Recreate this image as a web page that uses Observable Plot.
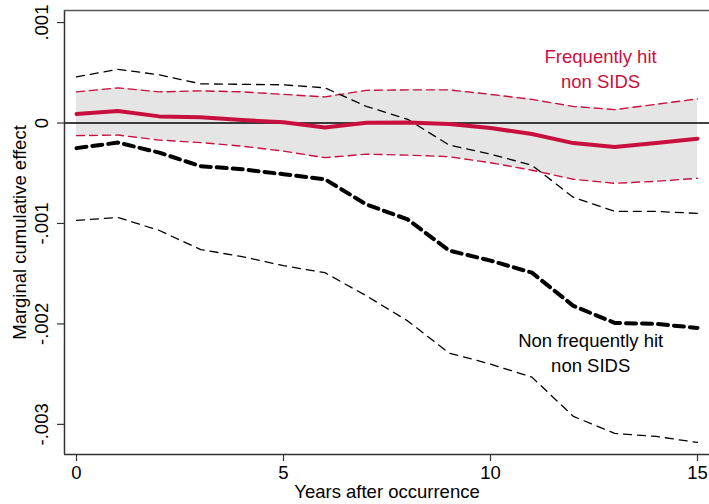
<!DOCTYPE html>
<html>
<head>
<meta charset="utf-8">
<script src="https://cdn.jsdelivr.net/npm/d3@7"></script>
<script src="https://cdn.jsdelivr.net/npm/@observablehq/plot@0.6"></script>
<style>
  html, body { margin: 0; padding: 0; background: #fff; }
  #chart svg { display: block; }
</style>
</head>
<body>
<div id="chart"></div>
<script>
const years = [0, 1, 2, 3, 4, 5, 6, 7, 8, 9, 10, 11, 12, 13, 14, 15];

// Frequently hit non SIDS
const freqMid = [0.00009, 0.00012, 0.000066, 0.000057, 0.00003, 0.000007, -0.000045, 0.000003, 0.000005, -0.00001, -0.00005, -0.00011, -0.0002, -0.00024, -0.0002, -0.000156];
const freqHi  = [0.00031, 0.00035, 0.00031, 0.00032, 0.00031, 0.000285, 0.00026, 0.000325, 0.00033, 0.00033, 0.000285, 0.000235, 0.000165, 0.000133, 0.000186, 0.00024];
const freqLo  = [-0.000126, -0.00012, -0.00017, -0.000195, -0.00023, -0.00028, -0.000345, -0.00031, -0.00032, -0.000335, -0.000395, -0.00047, -0.00056, -0.0006, -0.00058, -0.00055];

// Non frequently hit non SIDS
const nonMid = [-0.00025, -0.000195, -0.000295, -0.00043, -0.00046, -0.00051, -0.00056, -0.00081, -0.00096, -0.00127, -0.00137, -0.00149, -0.00182, -0.00199, -0.002, -0.00204];
const nonHi  = [0.00046, 0.000534, 0.00048, 0.00039, 0.000385, 0.00038, 0.00035, 0.000166, 0.000037, -0.00022, -0.00031, -0.00042, -0.00074, -0.00088, -0.00088, -0.0009];
const nonLo  = [-0.00097, -0.00094, -0.00107, -0.00126, -0.00133, -0.00142, -0.00149, -0.00172, -0.00197, -0.00229, -0.0024, -0.00253, -0.00292, -0.00309, -0.00312, -0.00318];

const xTicks = [0, 5, 10, 15];
const yTicks = [0.001, 0, -0.001, -0.002, -0.003];
const yTickLabels = [".001", "0", "-.001", "-.002", "-.003"];
const xDomain = [-0.29, 15.29];
const yDomain = [-0.0033, 0.00112];

const seriesLabels = ["Frequently hit\nnon SIDS", "Non frequently hit\nnon SIDS"];

const rows = years.map((yr, i) => ({
  yr, freqMid: freqMid[i], freqHi: freqHi[i], freqLo: freqLo[i],
  nonMid: nonMid[i], nonHi: nonHi[i], nonLo: nonLo[i]
}));

const RED = "#c8103e";
const FONT = "Liberation Sans, Arial, Helvetica, sans-serif";
const FS = 18.5;

const chart = Plot.plot({
  width: 709,
  height: 504,
  marginLeft: 64,
  marginRight: 0,
  marginTop: 10,
  marginBottom: 50,
  style: { fontFamily: FONT, fontSize: FS + "px", background: "#fff", color: "#000" },
  x: { domain: xDomain, axis: null },
  y: { domain: yDomain, axis: null },
  marks: [
    Plot.areaY(rows, { x: "yr", y1: "freqLo", y2: "freqHi", fill: "#e5e5e5" }),
    Plot.ruleY([0], { stroke: "#000", strokeWidth: 1.3 }),
    Plot.lineY(rows, { x: "yr", y: "freqHi", stroke: RED, strokeWidth: 1.4, strokeDasharray: "8,5" }),
    Plot.lineY(rows, { x: "yr", y: "freqLo", stroke: RED, strokeWidth: 1.4, strokeDasharray: "8,5" }),
    Plot.lineY(rows, { x: "yr", y: "nonHi", stroke: "#000", strokeWidth: 1.3, strokeDasharray: "8,6" }),
    Plot.lineY(rows, { x: "yr", y: "nonLo", stroke: "#000", strokeWidth: 1.3, strokeDasharray: "8,6" }),
    Plot.lineY(rows, { x: "yr", y: "nonMid", stroke: "#000", strokeWidth: 4, strokeDasharray: "10,6" }),
    Plot.lineY(rows, { x: "yr", y: "freqMid", stroke: RED, strokeWidth: 4 }),
    // frame lines
    Plot.ruleX([xDomain[0]], { stroke: "#333", strokeWidth: 1.5 }),
    Plot.ruleY([yDomain[0]], { stroke: "#333", strokeWidth: 1.5 }),
    Plot.ruleY([yDomain[1]], { stroke: "#555", strokeWidth: 1.5 }),
    // axes
    Plot.axisY(yTicks, { label: null, tickSize: 7, tickPadding: 10, tickFormat: (d) => yTickLabels[yTicks.indexOf(d)], tickRotate: -90, fontSize: FS, stroke: "#333", strokeWidth: 1.2 }),
    Plot.axisX(xTicks, { label: null, tickSize: 7, tickPadding: 4, tickFormat: d => String(d), fontSize: FS, stroke: "#333", strokeWidth: 1.2 }),
    Plot.text(["Years after occurrence"], { frameAnchor: "bottom", dy: 43, fontSize: FS, fill: "#000" }),
    Plot.text(["Marginal cumulative effect"], { frameAnchor: "left", dx: -44, rotate: -90, textAnchor: "middle", fontSize: FS, fill: "#000" }),
    Plot.text([seriesLabels[0]], { x: 12.66, y: 0.00055, fill: RED, fontSize: FS, lineHeight: 1.35 }),
    Plot.text([seriesLabels[1]], { x: 12.42, y: -0.00227, fill: "#000", fontSize: FS, lineHeight: 1.35 })
  ]
});

document.getElementById("chart").appendChild(chart);
</script>
</body>
</html>
